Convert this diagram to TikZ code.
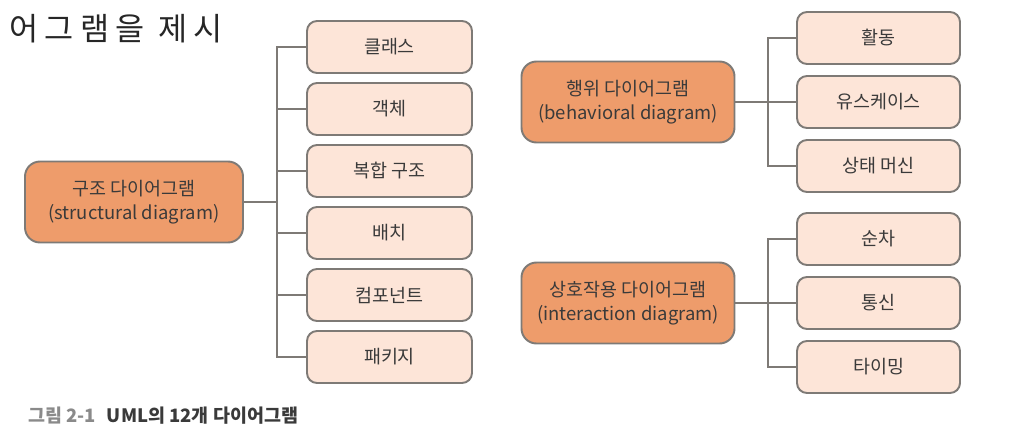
\documentclass[tikz,border=0pt]{standalone}
\usepackage{fontspec}
\setmainfont{Noto Sans CJK KR}
\usepackage{tikz}
\usetikzlibrary{positioning}
\definecolor{boxorange}{HTML}{EE9C6B}
\definecolor{boxpeach}{HTML}{FDE5D8}
\definecolor{boxline}{HTML}{7E7A76}
\definecolor{textgray}{HTML}{3A3A3A}
\definecolor{capgray}{HTML}{8A8A8A}

\begin{document}
\begin{tikzpicture}[node distance=1.24cm,
  mainbox/.style={draw=boxline,line width=1.1pt,fill=boxorange,rounded corners=0.3cm,minimum width=4.36cm,minimum height=1.62cm,align=center,text=textgray,font=\fontsize{10.5}{14}\selectfont},
  subbox/.style={draw=boxline,line width=1.1pt,fill=boxpeach,rounded corners=0.2cm,minimum width=3.3cm,minimum height=1.04cm,text=textgray,font=\fontsize{10.5}{12}\selectfont},
  conn/.style={draw=boxline,line width=0.9pt}]
  \useasboundingbox (0,0) rectangle (20.56,-8.92);

  \node (head) at (0.06,-0.80)[anchor=base west,text=black!85,font=\fontsize{18}{18}\selectfont\addfontfeature{LetterSpace=20}]{어그램을 제시};

  \node (s) at (2.68,-4.04)[mainbox]{구조 다이어그램\\(structural diagram)};
  \node (s1) at (7.79,-0.94)[subbox]{클래스};
  \node[below of =s1](s2)[subbox]{객체};
  \node[below of =s2](s3)[subbox]{복합 구조};
  \node[below of =s3](s4)[subbox]{배치};
  \node[below of =s4](s5)[subbox]{컴포넌트};
  \node[below of =s5](s6)[subbox]{패키지};

  \node (b) at (12.56,-2.04)[mainbox,minimum width=4.26cm]{행위 다이어그램\\(behavioral diagram)};
  \node (b1) at (17.57,-0.76)[subbox,minimum width=3.26cm]{활동};
  \node[below of =b1,node distance=1.28cm](b2)[subbox,minimum width=3.26cm]{유스케이스};
  \node[below of =b2,node distance=1.28cm](b3)[subbox,minimum width=3.26cm]{상태 머신};

  \node (i) at (12.56,-6.06)[mainbox,minimum width=4.26cm]{상호작용 다이어그램\\(interaction diagram)};
  \node (i1) at (17.57,-4.78)[subbox,minimum width=3.26cm]{순차};
  \node[below of =i1,node distance=1.28cm](i2)[subbox,minimum width=3.26cm]{통신};
  \node[below of =i2,node distance=1.28cm](i3)[subbox,minimum width=3.26cm]{타이밍};

  \node (cap) at (0.44,-8.44)[anchor=base west,font=\fontsize{10.5}{12}\selectfont\bfseries]{\textcolor{capgray}{그림 2-1}\hspace{0.6em}\textcolor{textgray}{UML의 12개 다이어그램}};

  % trunk points
  \coordinate (sj) at (5.54,-4.04);
  \coordinate (bj) at (15.36,-2.04);
  \coordinate (ij) at (15.36,-6.06);

  \draw[conn](s)--(sj);
  \draw[conn](s1.west)-|(sj)|-(s6.west);
  \draw[conn](s2.west)--(s2.west-|sj);
  \draw[conn](s3.west)--(s3.west-|sj);
  \draw[conn](s4.west)--(s4.west-|sj);
  \draw[conn](s5.west)--(s5.west-|sj);

  \draw[conn](b)--(b2);
  \draw[conn](b1.west)-|(bj)|-(b3.west);

  \draw[conn](i)--(ij);
  \draw[conn](i1.west)-|(ij)|-(i3.west);
  \draw[conn](i2.west)--(i2.west-|ij);
\end{tikzpicture}
\end{document}
